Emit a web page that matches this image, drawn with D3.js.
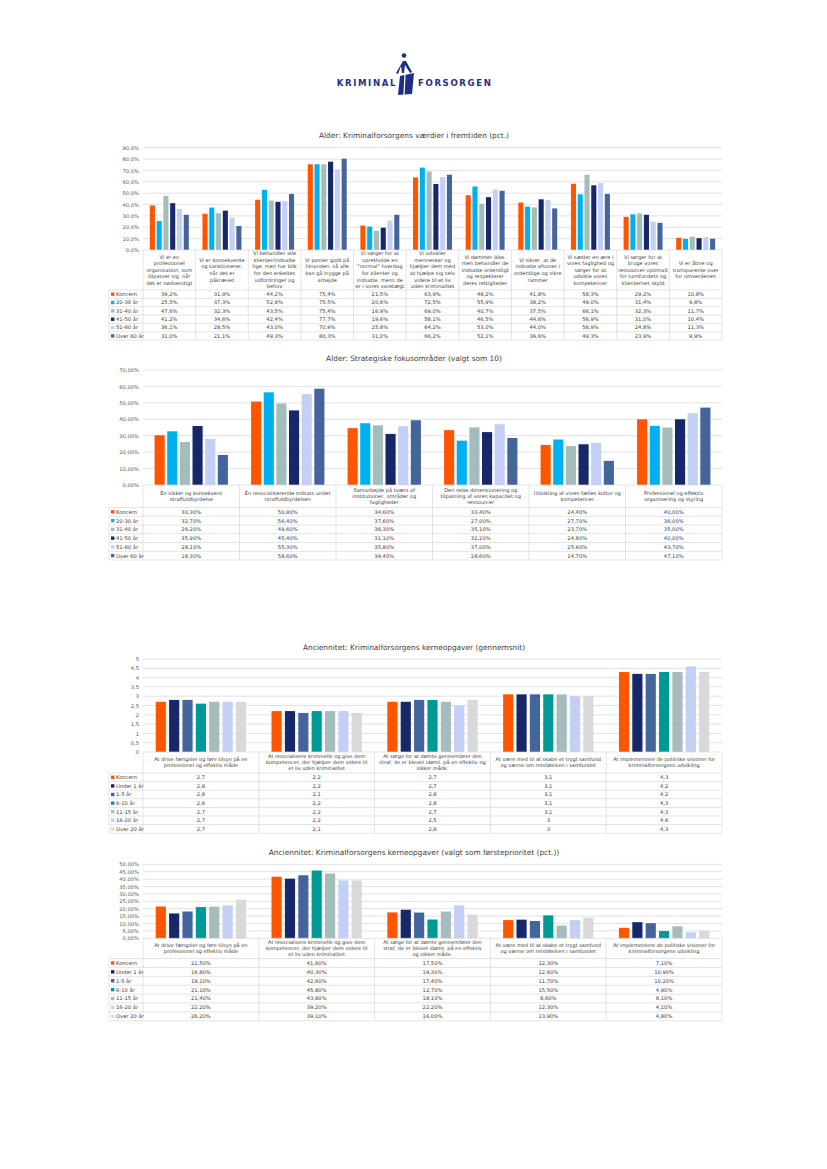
<!DOCTYPE html>
<html><head><meta charset="utf-8">
<script src="https://cdn.jsdelivr.net/npm/d3@7"></script>
<style>
html,body{margin:0;padding:0;background:#fff;}
svg{display:block;font-family:"DejaVu Sans",Verdana,sans-serif;}
</style></head>
<body>
<svg id="page" width="827" height="1169"></svg>
<script>
// ---------- DATA ----------
const ageSeries = ["Koncern","20-30 år","31-40 år","41-50 år","51-60 år","Over 60 år"];
const senSeries = ["Koncern","Under 1 år","1-5 år","6-10 år","11-15 år","16-20 år","Over 20 år"];

const c1Title = "Alder: Kriminalforsorgens værdier i fremtiden (pct.)";
const c1Categories = [
 ["Vi er en","professionel","organisation, som","tilpasser sig, når","det er nødvendigt"],
 ["Vi er konsekvente","og sanktionerer,","når det er","påkrævet"],
 ["Vi behandler alle","klienter/indsatte","lige, men har blik","for den enkeltes","udfordringer og","behov"],
 ["Vi passer godt på","hinanden, så alle","kan gå trygge på","arbejde"],
 ["Vi sørger for at","opretholde en","\"normal\" hverdag","for klienter og","indsatte, mens de","er i vores varetægt"],
 ["Vi udvikler","mennesker og","hjælper dem med","at hjælpe sig selv","videre til et liv","uden kriminalitet"],
 ["Vi dømmer ikke,","men behandler de","indsatte ordentligt","og respekterer","deres rettigheder"],
 ["Vi sikrer, at de","indsatte afsoner i","ordentlige og sikre","rammer"],
 ["Vi sætter en ære i","vores faglighed og","sørger for at","udvikle vores","kompetencer"],
 ["Vi sørger for at","bruge vores","ressourcer optimalt","for samfundets og","klienternes skyld"],
 ["Vi er åbne og","transparente over","for omverdenen"]
];
const c1Values = [
 [39.2,31.9,44.2,75.4,21.5,63.9,48.2,41.8,58.3,29.2,10.8],
 [25.5,37.3,52.9,75.5,20.6,72.5,55.9,38.2,49.0,31.4,9.8],
 [47.6,32.3,43.5,75.4,16.9,69.0,40.7,37.5,66.1,32.3,11.7],
 [41.2,34.6,42.4,77.7,19.6,58.1,46.5,44.6,56.9,31.0,10.4],
 [36.1,28.5,43.0,70.9,25.8,64.2,53.0,44.0,58.9,24.8,11.3],
 [31.0,21.1,49.3,80.3,31.0,66.2,52.1,36.6,49.3,23.9,9.9]
];
const c1Ticks = [0,10,20,30,40,50,60,70,80,90];

const c2Title = "Alder: Strategiske fokusområder (valgt som 10)";
const c2Categories = [
 ["Én sikker og konsekvent","straffuldbyrdelse"],
 ["Én resocialiserende indsats under","straffuldbyrdelsen"],
 ["Samarbejde på tværs af","institutioner, områder og","fagligheder"],
 ["Den rette dimensionering og","tilpasning af vores kapacitet og","ressourcer"],
 ["Udvikling af vores fælles kultur og","kompetencer"],
 ["Professionel og effektiv","organisering og styring"]
];
const c2Values = [
 [30.3,50.8,34.6,33.4,24.4,40.0],
 [32.7,56.4,37.6,27.0,27.7,36.0],
 [26.2,49.6,36.3,35.1,23.7,35.0],
 [35.9,45.4,31.1,32.2,24.8,40.0],
 [28.1,55.3,35.8,37.0,25.6,43.7],
 [18.3,58.6,39.4,28.6,14.7,47.1]
];
const c2Ticks = [0,10,20,30,40,50,60,70];

const c3Title = "Anciennitet: Kriminalforsorgens kerneopgaver (gennemsnit)";
const c3Categories = [
 ["At drive fængsler og føre tilsyn på en","professionel og effektiv måde"],
 ["At resocialisere kriminelle og give dem","kompetencer, der hjælper dem videre til","et liv uden kriminalitet"],
 ["At sørge for at dømte gennemfører den","straf, de er blevet idømt, på en effektiv og","sikker måde."],
 ["At være med til at skabe et trygt samfund","og værne om retsfølelsen i samfundet"],
 ["At implementere de politiske visioner for","kriminalforsorgens udvikling"]
];
const c3Values = [
 [2.7,2.2,2.7,3.1,4.3],
 [2.8,2.2,2.7,3.1,4.2],
 [2.8,2.1,2.8,3.1,4.2],
 [2.6,2.2,2.8,3.1,4.3],
 [2.7,2.2,2.7,3.1,4.3],
 [2.7,2.2,2.5,3.0,4.6],
 [2.7,2.1,2.8,3.0,4.3]
];
const c3Ticks = [0,0.5,1,1.5,2,2.5,3,3.5,4,4.5,5];

const c4Title = "Anciennitet: Kriminalforsorgens kerneopgaver (valgt som førsteprioritet (pct.))";
const c4Categories = [
 ["At drive fængsler og føre tilsyn på en","professionel og effektiv måde"],
 ["At resocialisere kriminelle og give dem","kompetencer, der hjælper dem videre til","et liv uden kriminalitet"],
 ["At sørge for at dømte gennemfører den","straf, de er blevet idømt, på en effektiv","og sikker måde."],
 ["At være med til at skabe et trygt samfund","og værne om retsfølelsen i samfundet"],
 ["At implementere de politiske visioner for","kriminalforsorgens udvikling"]
];
const c4Values = [
 [21.5,41.6,17.5,12.3,7.1],
 [16.8,40.3,19.3,12.6,10.9],
 [18.1,42.6,17.4,11.7,10.2],
 [21.1,45.8,12.7,15.5,4.9],
 [21.4,43.8,18.1,8.6,8.1],
 [22.2,39.2,22.2,12.3,4.1],
 [26.2,39.1,16.0,13.9,4.8]
];
const c4Ticks = [0,5,10,15,20,25,30,35,40,45,50];

// ---------- STYLE ----------
const ageColors = ["#ff5500","#00b0f0","#a4bdbc","#17286a","#c4cff5","#44649c"];
const senColors = ["#ff5500","#17286a","#44649c","#009a96","#a4bdbc","#c4cff5","#d9d9d9"];
const grid = "#d9d9d9", txt = "#404040";

const svg = d3.select("#page");
svg.append("rect").attr("width",827).attr("height",1169).attr("fill","#fff");

// ---------- LOGO ----------
const logo = svg.append("g");
const blue = "#1f2f82";
logo.append("text").attr("x",397).attr("y",85.5).attr("text-anchor","end")
  .attr("font-size",8.6).attr("letter-spacing",1.6).attr("fill",blue).attr("font-weight","bold")
  .attr("font-family","'DejaVu Sans',sans-serif").text("KRIMINAL");
logo.append("text").attr("x",418).attr("y",85.5)
  .attr("font-size",8.6).attr("letter-spacing",1.6).attr("fill",blue).attr("font-weight","bold")
  .attr("font-family","'DejaVu Sans',sans-serif").text("FORSORGEN");
logo.append("circle").attr("cx",404).attr("cy",55.5).attr("r",2.3).attr("fill",blue);
logo.append("path").attr("d","M396,73 L403,61 L406,61 L412,72 L410,73 L405,65 L404,73 L402,73 L401,66 L398,74 Z").attr("fill",blue);
logo.append("path").attr("d","M400,76 L414,73 L412,94 L398,95 Z").attr("fill",blue);
logo.append("path").attr("d","M405,75 L404,95").attr("stroke","#fff").attr("stroke-width",1.2);

// ---------- CHART ----------
function drawChart(o){
  const g = svg.append("g");
  const left = 143, right = 722, legendLeft = 109;
  const y = d3.scaleLinear().domain([0,o.max]).range([o.y0,o.yTop]);
  const x0 = d3.scaleBand().domain(d3.range(o.categories.length)).range([left,right]);
  const bw = x0.bandwidth();
  const x1 = d3.scaleBand().domain(d3.range(o.series.length))
     .range([o.groupPad*bw, bw - o.groupPad*bw]).paddingInner(o.barPad);
  const nRows = o.series.length;
  const tableBottom = o.headerBottom + nRows*o.rowH;

  g.append("text").attr("x",414).attr("y",o.titleY).attr("text-anchor","middle")
    .attr("font-size",o.titleSize).attr("fill",txt).text(o.title);

  g.selectAll(".gl").data(o.ticks.filter(t=>t>0)).join("line")
    .attr("x1",left).attr("x2",right).attr("y1",d=>y(d)).attr("y2",d=>y(d))
    .attr("stroke",grid).attr("stroke-width",0.8);
  const axis = d3.axisLeft(y).tickValues(o.ticks).tickSize(0).tickPadding(0).tickFormat(o.tickFmt);
  const ag = g.append("g").attr("transform",`translate(${left-4},0)`).call(axis);
  ag.select(".domain").remove();
  ag.selectAll("text").attr("font-size",5.2).attr("fill","#595959").attr("font-family","'DejaVu Sans',sans-serif");

  o.values.forEach((row,si)=>{
    g.selectAll(null).data(row).join("rect")
      .attr("x",(d,ci)=>x0(ci)+x1(si)).attr("width",x1.bandwidth())
      .attr("y",d=>y(d)).attr("height",d=>o.y0-y(d)).attr("fill",o.colors[si]);
  });

  const L = g.append("g").attr("stroke",grid).attr("stroke-width",0.7);
  L.append("line").attr("x1",left).attr("x2",right).attr("y1",o.y0).attr("y2",o.y0);
  d3.range(nRows+1).forEach(r=>{
    const yy = o.headerBottom + r*o.rowH;
    L.append("line").attr("x1",legendLeft).attr("x2",right).attr("y1",yy).attr("y2",yy);
  });
  L.append("line").attr("x1",legendLeft).attr("x2",legendLeft).attr("y1",o.headerBottom).attr("y2",tableBottom);
  d3.range(o.categories.length+1).forEach(c=>{
    const xx = left + c*bw;
    L.append("line").attr("x1",xx).attr("x2",xx).attr("y1",o.y0).attr("y2",tableBottom);
  });

  o.categories.forEach((lines,ci)=>{
    const cy = (o.y0+o.headerBottom)/2;
    const t = g.append("text").attr("text-anchor","middle").attr("font-size",o.catSize).attr("fill",txt);
    const y0 = cy - (lines.length-1)*o.catLH/2 + o.catSize*0.35;
    lines.forEach((ln,i)=>t.append("tspan").attr("x",x0(ci)+bw/2).attr("y",y0+i*o.catLH).text(ln));
  });

  o.series.forEach((s,si)=>{
    const cy = o.headerBottom + (si+0.5)*o.rowH;
    g.append("rect").attr("x",legendLeft+2).attr("y",cy-1.7).attr("width",3.4).attr("height",3.4).attr("fill",o.colors[si]);
    g.append("text").attr("x",legendLeft+7).attr("y",cy+1.9).attr("font-size",o.cellSize).attr("fill",txt).text(s);
    o.values[si].forEach((v,ci)=>{
      g.append("text").attr("x",x0(ci)+bw/2).attr("y",cy+1.9).attr("text-anchor","middle")
        .attr("font-size",o.cellSize).attr("fill",txt).text(o.valFmt(v));
    });
  });
}

const comma = s => s.replace(".",",");
drawChart({title:c1Title,titleY:137.5,titleSize:7.4,categories:c1Categories,series:ageSeries,values:c1Values,
  colors:ageColors,ticks:c1Ticks,max:90,yTop:147.7,y0:250,headerBottom:290,rowH:8.35,
  tickFmt:d=>comma(d3.format(".1f")(d))+"%",valFmt:d=>comma(d3.format(".1f")(d))+"%",
  groupPad:0.13,barPad:0.25,catSize:5.1,catLH:6.6,cellSize:5.2});
drawChart({title:c2Title,titleY:360.5,titleSize:7.4,categories:c2Categories,series:ageSeries,values:c2Values,
  colors:ageColors,ticks:c2Ticks,max:70,yTop:370,y0:485,headerBottom:507.5,rowH:8.75,
  tickFmt:d=>comma(d3.format(".2f")(d))+"%",valFmt:d=>comma(d3.format(".2f")(d))+"%",
  groupPad:0.12,barPad:0.2,catSize:5.1,catLH:6.4,cellSize:5.2});
drawChart({title:c3Title,titleY:649.5,titleSize:7.4,categories:c3Categories,series:senSeries,values:c3Values,
  colors:senColors,ticks:c3Ticks,max:5,yTop:659,y0:752,headerBottom:773,rowH:8.6,
  tickFmt:d=>comma(String(d)),valFmt:d=>comma(String(d)),
  groupPad:0.11,barPad:0.24,catSize:5.0,catLH:6.2,cellSize:5.2});
drawChart({title:c4Title,titleY:854.5,titleSize:7.4,categories:c4Categories,series:senSeries,values:c4Values,
  colors:senColors,ticks:c4Ticks,max:50,yTop:864.3,y0:938.3,headerBottom:958.5,rowH:8.9,
  tickFmt:d=>comma(d3.format(".2f")(d))+"%",valFmt:d=>comma(d3.format(".2f")(d))+"%",
  groupPad:0.11,barPad:0.24,catSize:5.0,catLH:6.2,cellSize:5.2});
</script>
</body></html>
